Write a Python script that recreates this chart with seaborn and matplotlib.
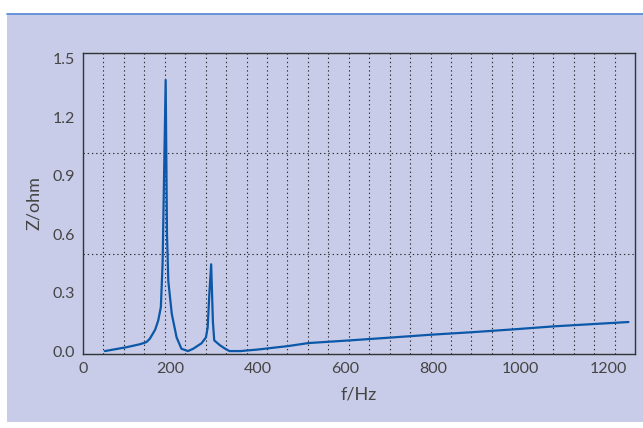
import matplotlib
matplotlib.use("Agg")
import matplotlib.pyplot as plt
import seaborn as sns
import pandas as pd
from matplotlib.patches import Rectangle
from matplotlib.lines import Line2D

# data
freq_hz = [50, 100, 130, 145, 153, 165, 172, 178, 182, 189, 192, 195, 203, 214,
           225, 240, 252, 271, 281, 285, 289, 293, 297, 300, 313, 325, 335,
           360, 400, 470, 515, 611, 702, 796, 891, 982, 1078, 1247]
z_ohm = [0.000, 0.020, 0.035, 0.046, 0.064, 0.110, 0.157, 0.226, 0.450, 1.390,
         0.600, 0.360, 0.190, 0.070, 0.012, 0.000, 0.012, 0.040, 0.070, 0.120,
         0.300, 0.445, 0.150, 0.055, 0.030, 0.012, 0.000, 0.000, 0.008, 0.026,
         0.041, 0.055, 0.069, 0.084, 0.097, 0.111, 0.127, 0.149]
x_ticks = [0, 200, 400, 600, 800, 1000, 1200]
y_ticks = [0.0, 0.3, 0.6, 0.9, 1.2, 1.5]
x_label = "f/Hz"
y_label = "Z/ohm"

df = pd.DataFrame({"f": freq_hz, "Z": z_ohm})

sns.set_style("ticks")
plt.rcParams["font.family"] = ["Lato", "DejaVu Sans"]
plt.rcParams["font.weight"] = "normal"

BG = "#c8cce8"
TXT = "#454545"

fig = plt.figure(figsize=(6.43, 4.28), dpi=100, facecolor="white")
fig.patches.append(Rectangle((7 / 643, 6 / 428), 1 - 7 / 643, (422 - 14) / 428,
                             transform=fig.transFigure, facecolor=BG,
                             edgecolor="none", zorder=-5))
fig.lines.append(Line2D([7 / 643, 1], [1 - 14 / 428, 1 - 14 / 428],
                        transform=fig.transFigure, color="#5b8ed8", lw=1.3,
                        zorder=-4))

ax = fig.add_axes([83 / 643, 1 - 354 / 428, (635 - 83) / 643, (354 - 52.7) / 428])
ax.set_facecolor(BG)

sns.lineplot(data=df, x="f", y="Z", ax=ax, color="#0b57a8", linewidth=1.6,
             sort=False, estimator=None, zorder=3)

ax.set_xlim(0, 1262)
ax.set_ylim(-0.015, 1.53)
ax.set_xticks(x_ticks)
ax.set_yticks(y_ticks)
ax.set_xticklabels([str(v) for v in x_ticks])
ax.set_yticklabels([f"{v:.1f}" for v in y_ticks])
ax.tick_params(length=0, labelsize=11.5, colors=TXT, pad=6)
ax.set_xlabel(x_label, fontsize=13, color=TXT, labelpad=7)
ax.set_ylabel(y_label, fontsize=13, color=TXT, labelpad=7)

# dotted grid: fixed divisions of the plot frame
dot = (0, (1.2, 2.6))
for i in range(1, 27):
    ax.plot([i / 27, i / 27], [0, 1], transform=ax.transAxes, color="#2a2a2a",
            lw=0.8, linestyle=dot, zorder=1)
for j in (1, 2):
    ax.plot([0, 1], [j / 3, j / 3], transform=ax.transAxes, color="#2a2a2a",
            lw=0.8, linestyle=dot, zorder=1)

for s in ax.spines.values():
    s.set_visible(True)
    s.set_color("#333333")
    s.set_linewidth(1.0)

fig.savefig("out.png", dpi=100, facecolor="white")
